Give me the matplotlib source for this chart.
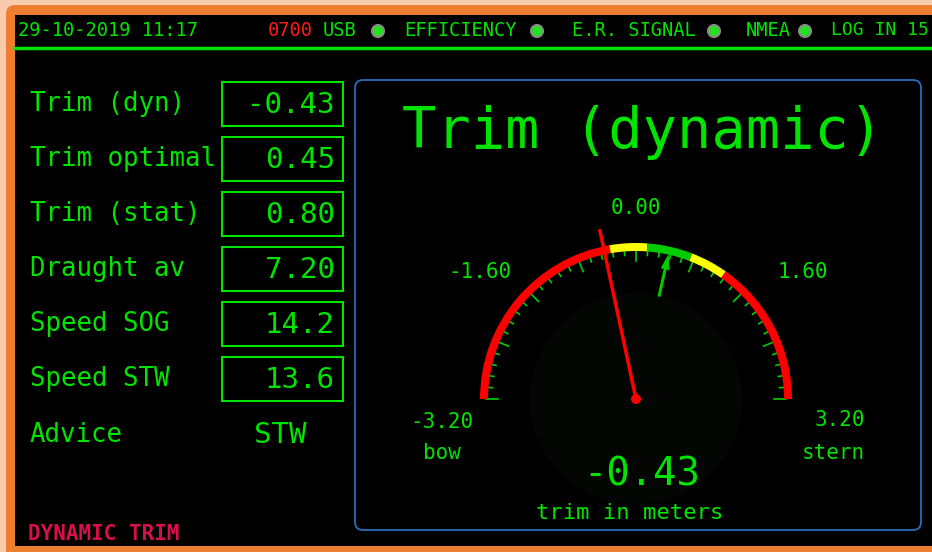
import numpy as np
import matplotlib
matplotlib.use("Agg")
import matplotlib.pyplot as plt
from matplotlib.patches import Rectangle, FancyBboxPatch, Wedge, Circle, FancyArrow

# ---- data ----
header_date = "29-10-2019 11:17"
header_code = "0700"
status_items = ["USB", "EFFICIENCY", "E.R. SIGNAL", "NMEA"]
status_text_x = [323, 404, 572, 746]
status_dot_x = [378, 537, 714, 805]
header_tail = "LOG IN 15"

field_labels = ["Trim (dyn)", "Trim optimal", "Trim (stat)", "Draught av",
                "Speed SOG", "Speed STW"]
field_values = ["-0.43", "0.45", "0.80", "7.20", "14.2", "13.6"]
advice_label = "Advice"
advice_value = "STW"
footer_label = "DYNAMIC TRIM"

gauge_title = "Trim (dynamic)"
gauge_min, gauge_max = -3.2, 3.2
gauge_labels = ["-3.20", "-1.60", "0.00", "1.60", "3.20"]
trim_dyn = -0.43
trim_opt = 0.45
band_edges = [-3.2, -0.35, 0.15, 0.75, 1.25, 3.2]
band_colors = ["#ff0000", "#ffff00", "#00cc00", "#ffff00", "#ff0000"]
tick_values = np.linspace(gauge_min, gauge_max, 41)

W, H = 932, 552
GREEN = "#00e400"
FONT = "DejaVu Sans Mono"


def Y(y):
    # screen y (downwards) -> axes y (upwards)
    return H - y


def ang(v):
    return np.radians(90 - v / gauge_max * 90)


fig = plt.figure(figsize=(9.32, 5.52), dpi=100, facecolor="#f8cbad")
ax = fig.add_axes([0, 0, 1, 1])
ax.set_xlim(0, W)
ax.set_ylim(0, H)
ax.axis("off")

# frame
ax.add_patch(FancyBboxPatch((6, Y(565)), 950, 560, boxstyle="round,pad=0,rounding_size=9",
                            fc="#ed7d31", ec="none"))
ax.add_patch(Rectangle((15, Y(546)), 940, 531, fc="black", ec="none"))

# header
ax.text(18, Y(30), header_date, color=GREEN, fontsize=13.5, family=FONT, va="center")
ax.text(268, Y(31), header_code, color="#ff1a1a", fontsize=13.5, family=FONT, va="center")
for name, tx, dx in zip(status_items, status_text_x, status_dot_x):
    ax.text(tx, Y(30), name, color=GREEN, fontsize=13.5, family=FONT, va="center")
    ax.add_patch(Circle((dx, Y(31)), 6, fc="#22e022", ec="#8a8a8a", lw=1.5))
ax.text(831, Y(30), header_tail, color=GREEN, fontsize=13, family=FONT, va="center")
ax.plot([15, W], [Y(48), Y(48)], color=GREEN, lw=2.5)

# left panel
for i, (lab, val) in enumerate(zip(field_labels, field_values)):
    yc = 104 + 55 * i
    ax.text(30, Y(yc), lab, color=GREEN, fontsize=18.5, family=FONT, va="center")
    ax.add_patch(Rectangle((222, Y(yc + 22)), 121, 44, fc="none", ec=GREEN, lw=1.5))
    ax.text(335, Y(yc + 1), val, color=GREEN, fontsize=21, family=FONT,
            va="center", ha="right")
ax.text(30, Y(435), advice_label, color=GREEN, fontsize=18.5, family=FONT, va="center")
ax.text(280, Y(435), advice_value, color=GREEN, fontsize=21, family=FONT,
        va="center", ha="center")
ax.text(28, Y(534), footer_label, color="#d8104a", fontsize=15, family=FONT,
        va="center", weight="bold")

# gauge panel
ax.add_patch(FancyBboxPatch((355, Y(530)), 566, 450, boxstyle="round,pad=0,rounding_size=8",
                            fc="none", ec="#2a6ebb", lw=1.3))
ax.text(643, Y(133), gauge_title, color=GREEN, fontsize=41, family=FONT,
        va="center", ha="center")

cx, cy = 636, Y(399)
R = 156
ax.add_patch(Circle((cx, cy), 106, fc="#040604", ec="none", zorder=1))
for lo, hi, c in zip(band_edges[:-1], band_edges[1:], band_colors):
    ax.add_patch(Wedge((cx, cy), R, np.degrees(ang(hi)), np.degrees(ang(lo)),
                       width=8, fc=c, ec="none", zorder=3))
for k, v in enumerate(tick_values):
    a = ang(v)
    r0 = 138 if k % 5 == 0 else 144
    ax.plot([cx + r0 * np.cos(a), cx + 150 * np.cos(a)],
            [cy + r0 * np.sin(a), cy + 150 * np.sin(a)],
            color="#00d000", lw=1.2, zorder=2)

label_pos = [(442, 422), (480, 272), (636, 208), (803, 272), (840, 420)]
for txt, (lx, ly) in zip(gauge_labels, label_pos):
    ax.text(lx, Y(ly), txt, color=GREEN, fontsize=15, family=FONT,
            va="center", ha="center")
ax.text(442, Y(453), "bow", color=GREEN, fontsize=15, family=FONT, va="center", ha="center")
ax.text(833, Y(453), "stern", color=GREEN, fontsize=15, family=FONT, va="center", ha="center")

# optimal trim arrow
a = ang(trim_opt)
ax.add_patch(FancyArrow(cx + 105 * np.cos(a), cy + 105 * np.sin(a),
                        44 * np.cos(a), 44 * np.sin(a), width=3, head_width=9,
                        head_length=16, length_includes_head=True,
                        fc="#00cc00", ec="none", zorder=4))

# needle
a = ang(trim_dyn)
ax.plot([cx, cx + 172 * np.cos(a)], [cy, cy + 172 * np.sin(a)],
        color="#ff0000", lw=2.5, zorder=5)
ax.add_patch(Circle((cx, cy), 5, fc="#ff0000", ec="none", zorder=5))

ax.text(642, Y(475), f"{trim_dyn:.2f}", color=GREEN, fontsize=28, family=FONT,
        va="center", ha="center")
ax.text(630, Y(513), "trim in meters", color=GREEN, fontsize=16, family=FONT,
        va="center", ha="center")

fig.savefig("out.png", dpi=100, facecolor=fig.get_facecolor())
